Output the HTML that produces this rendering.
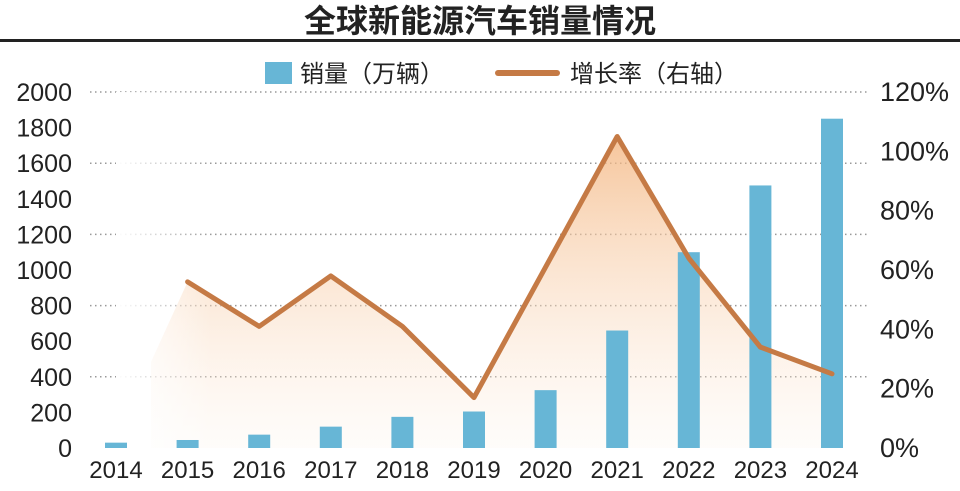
<!DOCTYPE html>
<html><head><meta charset="utf-8">
<style>
body{margin:0;background:#fff;width:960px;height:486px;overflow:hidden}
svg text{font-family:"Liberation Sans Narrow","Liberation Sans","Noto Sans CJK SC",sans-serif;fill:#222}
</style></head><body>
<svg id="c" width="960" height="486" viewBox="0 0 960 486">
<defs>
<linearGradient id="ag" x1="0" y1="0" x2="0" y2="1">
<stop offset="0" stop-color="#f3b27a" stop-opacity="0.75"/>
<stop offset="1" stop-color="#fdf0e4" stop-opacity="0.2"/>
</linearGradient>
<linearGradient id="hg" x1="0" y1="0" x2="1" y2="0">
<stop offset="0" stop-color="#fff" stop-opacity="1"/>
<stop offset="0.12" stop-color="#fff" stop-opacity="0"/>
</linearGradient>
</defs>
<text x="480" y="32" text-anchor="middle" font-size="32" font-weight="bold" style="font-family:'Noto Sans CJK SC',sans-serif">全球新能源汽车销量情况</text>
<rect x="0" y="39" width="960" height="3" fill="#222"/>
<g>
<rect x="265" y="62" width="27" height="22" fill="#67b6d6"/>
<text x="300" y="82" font-size="24">销量（万辆）</text>
<rect x="495" y="70" width="65" height="6" rx="3" fill="#c57a45"/>
<text x="570" y="82" font-size="24">增长率（右轴）</text>
</g>
<g id="grid"></g><g id="area"></g><g id="bars"></g><g id="line"></g><g id="axes"></g>
</svg>
<script>
const years=["2014","2015","2016","2017","2018","2019","2020","2021","2022","2023","2024"];
const sales=[30,45,75,120,175,205,325,660,1100,1475,1850];
const growth=[null,56,41,58,41,17,61,105,64,34,25];
const leftTicks=[0,200,400,600,800,1000,1200,1400,1600,1800,2000];
const gridTicks=[400,800,1200,1600,2000];
const rightTicks=[0,20,40,60,80,100,120];
const NS="http://www.w3.org/2000/svg";
const x0=116,dx=71.6,yB=448,yT=92;
const xs=i=>x0+i*dx;
const yL=v=>yB-(v/2000)*(yB-yT);
const yR=v=>yB-(v/120)*(yB-yT);
function mk(t,a,p){const e=document.createElementNS(NS,t);for(const k in a)e.setAttribute(k,a[k]);p.appendChild(e);return e;}
const G=document.getElementById('grid'),A=document.getElementById('area'),B=document.getElementById('bars'),L=document.getElementById('line'),X=document.getElementById('axes');
gridTicks.forEach(t=>{const l=mk('line',{x1:90,x2:870,y1:yL(t),y2:yL(t),stroke:'#999','stroke-width':1.5,'stroke-dasharray':'1.5 3.5'},G);

});
leftTicks.forEach(t=>{const e=mk('text',{x:72,y:yL(t)+9,'text-anchor':'end','font-size':25},X);e.textContent=t;

});
rightTicks.forEach(t=>{const e=mk('text',{x:880,y:yR(t)+9,'font-size':27},X);e.textContent=t+'%';

});
years.forEach((y,i)=>{const e=mk('text',{x:xs(i),y:478,'text-anchor':'middle','font-size':24},X);e.textContent=y;

});
let pts=[];growth.forEach((g,i)=>{if(g!=null)pts.push([xs(i),yR(g)]);});
let d='M'+(xs(0)+35)+','+yB+' L'+(xs(0)+35)+','+(yR(growth[1])+80);
pts.forEach(p=>d+=' L'+p[0]+','+p[1]);d+=' L'+pts[pts.length-1][0]+','+yB+' Z';
const ar=mk('path',{d:d,fill:'url(#ag)'},A);


const fade=mk('rect',{x:xs(0),y:yT,width:800,height:yB-yT,fill:'url(#hg)'},A);


sales.forEach((v,i)=>{const r=mk('rect',{x:xs(i)-11,y:yL(v),width:22,height:yB-yL(v),fill:'#67b6d6'},B);

});
const pl=mk('polyline',{points:pts.map(p=>p.join(',')).join(' '),fill:'none',stroke:'#c57a45','stroke-width':5,'stroke-linejoin':'round','stroke-linecap':'round'},L);


</script>
</body></html>
